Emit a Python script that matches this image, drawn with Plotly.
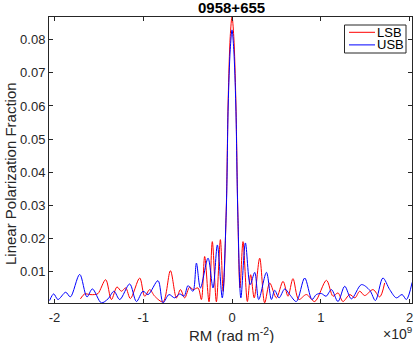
import plotly.graph_objects as go

# RM in units of 1e9 rad m^-2 (scaled below); values = linear polarization fraction
usb_rm = [-2.055, -2.009, -1.961, -1.874, -1.821, -1.716, -1.634, -1.573, -1.472, -1.397, -1.33, -1.265,
          -1.153, -1.077, -1.003, -0.946, -0.834, -0.777, -0.71, -0.646, -0.589, -0.54, -0.496, -0.44,
          -0.401, -0.356, -0.27, -0.214, -0.165, -0.11, -0.065, -0.043, -0.02, 0.0, 0.02, 0.043, 0.065,
          0.1, 0.151, 0.205, 0.256, 0.301, 0.388, 0.444, 0.481, 0.53, 0.594, 0.65, 0.725, 0.819, 0.901,
          0.95, 1.007, 1.06, 1.12, 1.194, 1.27, 1.345, 1.458, 1.552, 1.616, 1.70, 1.777, 1.852, 1.916,
          1.965, 2.03]
usb_val = [0.0012, 0.0032, 0.0015, 0.0037, 0.0023, 0.0091, 0.0023, 0.0047, 0.0005, 0.0017, 0.0040, 0.0015,
           0.0062, 0.0009, 0.0040, 0.0030, 0.0072, 0.0005, 0.0030, 0.0020, 0.0032, 0.0025, 0.0057, 0.0040,
           0.0125, 0.0050, 0.0140, 0.0050, 0.0180, 0.0020, 0.0280, 0.0600, 0.0770, 0.0830, 0.0770, 0.0600, 0.0280,
           0.0020, 0.0186, 0.0060, 0.0097, 0.0015, 0.0097, 0.0015, 0.0043, 0.0020, 0.0047, 0.0030, 0.0009, 0.0080, 0.0015,
           0.0030, 0.0033, 0.0025, 0.0045, 0.0009, 0.0055, 0.0017, 0.0060, 0.0043, 0.0012, 0.0080, 0.0045, 0.0020, 0.0030,
           0.0015, 0.0067]

lsb_rm = [-1.708, -1.66, -1.603, -1.547, -1.51, -1.423, -1.359, -1.296, -1.246, -1.198, -1.145, -1.04,
          -0.984, -0.927, -0.871, -0.777, -0.694, -0.626, -0.581, -0.533, -0.477, -0.439, -0.383, -0.345,
          -0.308, -0.259, -0.222, -0.176, -0.131, -0.1, -0.065, -0.043, -0.02, 0.0, 0.02, 0.043, 0.065,
          0.09, 0.124, 0.173, 0.21, 0.25, 0.312, 0.368, 0.425, 0.5, 0.575, 0.631, 0.687, 0.752, 0.838,
          0.932, 1.064, 1.138, 1.194, 1.25, 1.326, 1.385, 1.439, 1.495, 1.589, 1.664, 1.72]
lsb_val = [0.0017, 0.0032, 0.0030, 0.0030, 0.0033, 0.0075, 0.0015, 0.0053, 0.0040, 0.0050, 0.0018, 0.0080,
           0.0025, 0.0045, 0.0025, 0.0008, 0.0102, 0.0020, 0.0045, 0.0020, 0.0053, 0.0045, 0.0050, 0.0015,
           0.0145, 0.0008, 0.0190, 0.0008, 0.0196, 0.0040, 0.0286, 0.0620, 0.0810, 0.0870, 0.0810, 0.0620, 0.0286,
           0.0050, 0.0190, 0.0009, 0.0090, 0.0020, 0.0140, 0.0005, 0.0065, 0.0020, 0.0070, 0.0025, 0.0078, 0.0015, 0.0030,
           0.0009, 0.0073, 0.0025, 0.0035, 0.0009, 0.0030, 0.0020, 0.0040, 0.0027, 0.0045, 0.0023, 0.0065]

series_names = ["LSB", "USB"]
series_colors = ["#ff0000", "#0000ff"]
x_ticks = [-2, -1, 0, 1, 2]
y_ticks = [0.01, 0.02, 0.03, 0.04, 0.05, 0.06, 0.07, 0.08]

FONT = "Liberation Sans, Arial, sans-serif"
AX = "#262626"
scale = 1e9

fig = go.Figure()
for name, color, xs, ys in zip(series_names, series_colors, [lsb_rm, usb_rm], [lsb_val, usb_val]):
    fig.add_trace(go.Scatter(x=[v * scale for v in xs], y=ys, mode="lines", name=name,
                             showlegend=False,
                             line=dict(color=color, width=1, shape="spline", smoothing=0.9)))

axis_common = dict(showline=True, mirror="ticks", linecolor=AX, linewidth=1, ticks="inside",
                   ticklen=4, tickcolor=AX, showgrid=False, zeroline=False, automargin=False,
                   tickfont=dict(family=FONT, size=13, color=AX))
fig.update_layout(
    width=415, height=343,
    margin=dict(l=49, r=3, t=17, b=40, autoexpand=False),
    paper_bgcolor="white", plot_bgcolor="white",
    xaxis=dict(range=[-2.062e9, 2.028e9], tickvals=[v * scale for v in x_ticks],
               ticktext=[str(v) if v >= 0 else "-" + str(-v) for v in x_ticks], ticklabelstandoff=2,
               **axis_common),
    yaxis=dict(range=[0.00045, 0.0869], tickvals=y_ticks, ticktext=[f"{v:.2f}" for v in y_ticks],
               **axis_common),
    showlegend=False,
)

# compact legend box (pixel-placed, MATLAB style)
PL, PT, PW, PH = 49, 17, 363, 286
def px(xp):
    return (xp - PL) / PW
def py(yp):
    return 1 - (yp - PT) / PH

fig.add_shape(type="rect", xref="paper", yref="paper", x0=px(344.5), x1=px(406), y0=py(25), y1=py(53),
              line=dict(color=AX, width=1), fillcolor="white", layer="above")
for i, (name, color) in enumerate(zip(series_names, series_colors)):
    yy = 32.3 + 12.6 * i
    fig.add_shape(type="line", xref="paper", yref="paper", x0=px(349), x1=px(375), y0=py(yy), y1=py(yy),
                  line=dict(color=color, width=1), layer="above")
    fig.add_annotation(text=name, xref="paper", yref="paper", x=px(376), y=py(yy), xanchor="left",
                       yanchor="middle", height=11, borderpad=0, valign="middle", showarrow=False,
                       font=dict(family=FONT, size=13, color="black"))

# title and axis titles as annotations (pixel-placed)
fig.add_annotation(text="<b>0958+655</b>", xref="paper", yref="paper", x=0.504, y=py(7),
                   xanchor="center", yanchor="middle", height=14, borderpad=0, showarrow=False,
                   font=dict(family=FONT, size=15, color="black"))
fig.add_annotation(text="RM (rad m<sup>-2</sup>)", xref="paper", yref="paper", x=0.504, y=py(334),
                   xanchor="center", yanchor="middle", showarrow=False,
                   font=dict(family=FONT, size=15, color=AX))
fig.add_annotation(text="Linear Polarization Fraction", xref="paper", yref="paper", x=px(10), y=py(174),
                   xanchor="center", yanchor="middle", textangle=-90, showarrow=False,
                   font=dict(family=FONT, size=15, color=AX))
fig.add_annotation(text="\u00d710<sup>9</sup>", xref="paper", yref="paper", x=px(414), y=py(333),
                   xanchor="right", yanchor="middle", showarrow=False,
                   font=dict(family=FONT, size=14, color=AX))
fig.write_html("out.html", config={"displayModeBar": False},
               post_script="document.body.style.margin='0';document.body.style.overflow='hidden';")
